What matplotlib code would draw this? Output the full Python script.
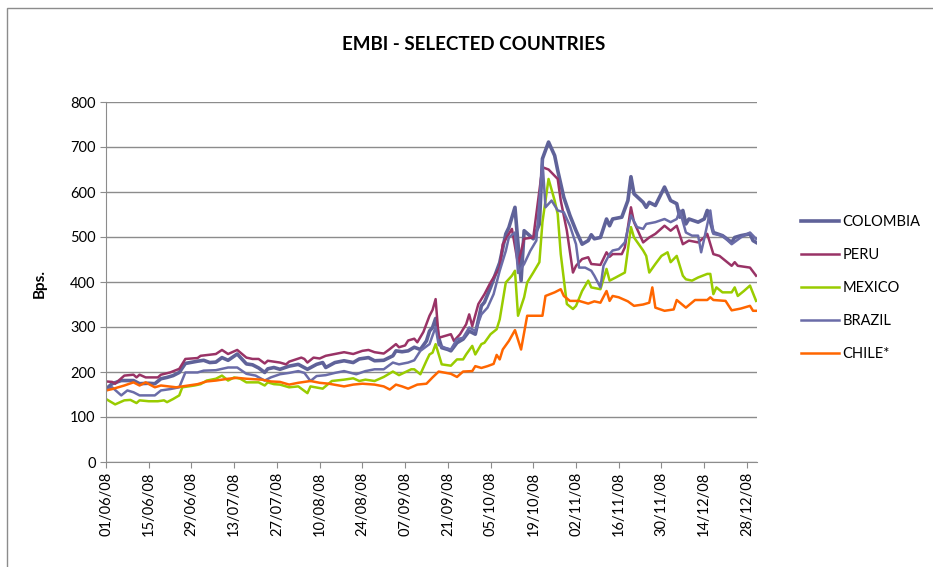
import numpy as np
import pandas as pd
import matplotlib
matplotlib.use("Agg")
import matplotlib.pyplot as plt
import matplotlib.dates as mdates
from matplotlib.patches import Rectangle

plt.rcParams['font.family'] = ['Lato', 'DejaVu Sans']

# --- Data, x = days after 01/06/08 ---
start = pd.Timestamp("2008-06-01")

colombia_day = [0, 2, 5, 9, 11, 14, 16, 18, 20, 22, 24, 26, 30, 32, 34, 36, 38, 40, 43, 46, 48, 50, 52, 53, 55,
                57, 60, 63, 66, 69, 71, 72, 75, 78, 81, 83, 86, 88, 91, 94, 95, 97, 99, 101, 103, 105, 106, 107, 108,
                109, 110, 112, 113, 115, 117, 119, 121, 123, 124, 126, 129, 131, 132, 134, 136, 137, 140, 142, 143,
                145, 147, 148, 150, 152, 154, 156, 158, 159, 160, 162, 164, 165, 166, 169, 171, 172, 173, 176, 177,
                178, 180, 183, 185, 187, 188, 189, 190, 191, 194, 196, 197, 199, 202, 205, 206, 208, 211, 212, 213]
colombia_bps = [162, 174, 181, 181, 174, 175, 174, 185, 188, 192, 199, 219, 224, 226, 221, 222, 232, 226, 240, 218,
                216, 209, 199, 207, 210, 206, 213, 217, 206, 217, 221, 210, 221, 225, 221, 229, 232, 225, 226, 236,
                247, 245, 247, 255, 250, 269, 291, 299, 319, 276, 254, 250, 247, 265, 273, 291, 284, 347, 355, 388,
                443, 507, 521, 566, 403, 514, 496, 529, 674, 711, 681, 648, 588, 548, 514, 484, 492, 505, 496, 499,
                540, 525, 540, 544, 581, 634, 596, 577, 566, 577, 570, 611, 581, 574, 544, 559, 529, 540, 533, 540,
                559, 510, 503, 488, 499, 503, 507, 492, 488]

peru_day = [0, 2, 3, 6, 9, 10, 11, 13, 17, 18, 21, 24, 26, 30, 31, 36, 38, 40, 43, 46, 48, 50, 52, 53, 57, 59, 60,
            64, 65, 66, 68, 70, 72, 75, 78, 81, 84, 86, 88, 91, 93, 95, 96, 98, 99, 101, 102, 104, 106, 107, 108,
            109, 111, 113, 114, 116, 118, 119, 120, 122, 124, 126, 129, 130, 132, 133, 135, 137, 140, 143, 145,
            148, 149, 151, 153, 154, 156, 158, 159, 162, 164, 165, 166, 169, 170, 172, 173, 176, 178, 180, 183,
            185, 187, 189, 191, 194, 196, 197, 199, 201, 203, 205, 206, 207, 211, 213]
peru_bps = [179, 178, 174, 192, 194, 188, 194, 188, 188, 194, 199, 207, 229, 231, 236, 240, 249, 240, 249, 232, 229,
            229, 219, 225, 221, 217, 223, 232, 229, 221, 232, 230, 236, 240, 244, 240, 247, 249, 244, 241, 251, 262,
            255, 259, 270, 274, 266, 289, 325, 338, 362, 276, 280, 284, 269, 284, 306, 328, 302, 351, 373, 399, 432,
            484, 507, 518, 440, 496, 499, 655, 650, 629, 581, 514, 421, 436, 451, 455, 440, 438, 466, 456, 462, 462,
            477, 566, 533, 488, 499, 507, 525, 514, 525, 484, 492, 488, 499, 507, 462, 458, 447, 436, 444, 436, 432,
            414]

mexico_day = [0, 3, 6, 8, 10, 11, 14, 17, 19, 20, 22, 24, 25, 29, 31, 33, 36, 38, 40, 42, 44, 46, 50, 52, 53, 55,
              57, 60, 63, 66, 67, 71, 74, 78, 81, 83, 85, 88, 91, 94, 96, 100, 101, 103, 105, 106, 107, 108, 110,
              113, 115, 117, 118, 120, 121, 123, 124, 126, 128, 129, 131, 133, 134, 135, 137, 138, 140, 142, 143,
              145, 147, 148, 149, 151, 153, 154, 156, 158, 159, 162, 164, 165, 167, 170, 172, 173, 176, 177, 178,
              180, 182, 184, 185, 187, 189, 190, 192, 194, 197, 198, 199, 200, 202, 205, 206, 207, 209, 211, 213]
mexico_bps = [140, 128, 137, 138, 131, 137, 135, 135, 137, 133, 140, 148, 166, 170, 173, 181, 185, 192, 181, 188,
              185, 177, 177, 170, 177, 173, 172, 166, 168, 153, 168, 163, 180, 183, 186, 180, 183, 180, 189, 201,
              193, 206, 206, 195, 225, 239, 243, 262, 217, 214, 228, 228, 239, 258, 239, 262, 265, 284, 295, 317,
              399, 414, 425, 325, 366, 399, 421, 444, 533, 629, 581, 551, 462, 351, 340, 347, 380, 403, 388, 384,
              429, 403, 410, 421, 522, 499, 470, 458, 421, 440, 458, 466, 444, 458, 414, 406, 403, 410, 418, 418,
              373, 388, 377, 377, 388, 369, 380, 392, 358]

brazil_day = [0, 2, 5, 7, 9, 11, 14, 16, 18, 21, 24, 26, 30, 32, 36, 40, 43, 46, 49, 52, 54, 57, 60, 63, 65, 67,
              69, 72, 75, 78, 82, 85, 88, 91, 94, 96, 99, 101, 103, 106, 107, 108, 109, 111, 113, 115, 117, 119,
              121, 123, 125, 127, 129, 131, 132, 134, 135, 137, 139, 141, 143, 144, 146, 148, 150, 152, 154, 155,
              157, 159, 160, 162, 163, 165, 166, 168, 170, 172, 174, 176, 177, 180, 183, 185, 187, 188, 190, 192,
              194, 195, 196, 198, 199, 202, 205, 208, 211, 213]
brazil_bps = [159, 166, 148, 159, 155, 148, 148, 148, 159, 162, 166, 199, 199, 203, 204, 210, 210, 196, 192, 181,
              188, 195, 198, 202, 198, 180, 191, 193, 198, 202, 195, 202, 206, 206, 221, 217, 221, 226, 247, 262,
              281, 300, 260, 254, 250, 273, 276, 299, 291, 328, 343, 373, 425, 469, 499, 510, 420, 440, 469, 492,
              670, 566, 581, 559, 555, 525, 484, 432, 432, 425, 414, 388, 436, 462, 470, 473, 488, 548, 522, 518,
              529, 533, 540, 533, 540, 559, 510, 503, 503, 466, 496, 559, 507, 503, 484, 499, 510, 496]

chile_day = [0, 2, 6, 9, 11, 13, 16, 18, 23, 27, 30, 33, 36, 40, 43, 46, 51, 54, 57, 60, 63, 67, 70, 73, 78, 81,
             84, 88, 91, 93, 95, 97, 99, 102, 105, 107, 109, 113, 115, 117, 120, 121, 123, 125, 127, 128, 129, 130,
             132, 134, 136, 138, 140, 143, 144, 147, 149, 150, 152, 155, 158, 160, 162, 164, 165, 166, 168, 171,
             173, 176, 178, 179, 180, 183, 186, 187, 190, 193, 197, 198, 199, 203, 205, 208, 211, 212, 213]
chile_bps = [159, 162, 170, 177, 170, 177, 166, 170, 166, 170, 173, 179, 181, 185, 187, 185, 183, 179, 178, 172,
             176, 180, 176, 174, 168, 172, 174, 172, 168, 161, 172, 168, 163, 172, 174, 188, 201, 196, 189, 201,
             202, 213, 209, 213, 218, 238, 228, 250, 269, 293, 250, 325, 325, 325, 369, 377, 384, 369, 358, 358,
             352, 357, 354, 380, 358, 369, 366, 357, 347, 350, 354, 388, 343, 336, 339, 360, 343, 360, 360, 366,
             360, 358, 337, 341, 347, 336, 336]

series = [
    ("COLOMBIA", colombia_day, colombia_bps, "#5F6299", 2.6),
    ("PERU", peru_day, peru_bps, "#993366", 1.8),
    ("MEXICO", mexico_day, mexico_bps, "#99CC00", 1.8),
    ("BRAZIL", brazil_day, brazil_bps, "#6A6CA8", 1.8),
    ("CHILE*", chile_day, chile_bps, "#FF6600", 1.8),
]

fig = plt.figure(figsize=(9.33, 5.67), dpi=100)
ax = fig.add_axes([106 / 933, 1 - 462 / 567, (757 - 106) / 933, (462 - 102) / 567])

for name, days, vals, color, lw in series:
    x = start + pd.to_timedelta(days, unit="D")
    ax.plot(x, vals, color=color, lw=lw, label=name, solid_joinstyle="round")

ax.set_ylim(0, 800)
ax.set_yticks(np.arange(0, 801, 100))
ax.set_xlim(start, start + pd.Timedelta(days=213.3))
xt = pd.date_range("2008-06-01", "2008-12-28", freq="14D")
ax.set_xticks(xt)
ax.xaxis.set_major_formatter(mdates.DateFormatter("%d/%m/%y"))
plt.setp(ax.get_xticklabels(), rotation=90)

ax.grid(axis="y", color="#8C8C8C", lw=1)
ax.set_axisbelow(True)
for s in ["top", "right"]:
    ax.spines[s].set_visible(False)
for s in ["left", "bottom"]:
    ax.spines[s].set_color("#8C8C8C")
ax.tick_params(axis="both", colors="#8C8C8C", labelcolor="black", length=4, labelsize=10.5)
ax.tick_params(axis="x", labelsize=10.5, pad=3)

fig.text(474 / 933, 1 - 44 / 567, "EMBI - SELECTED COUNTRIES", ha="center", va="center",
         fontsize=13.5, fontweight="bold")
fig.text(40 / 933, 1 - 283 / 567, "Bps.", ha="center", va="center", rotation=90,
         fontsize=11, fontweight="bold")

leg = ax.legend(loc="center left", bbox_to_anchor=(795 / 933, 1 - 288 / 567),
                bbox_transform=fig.transFigure, frameon=False, fontsize=10.5,
                handlelength=2.6, labelspacing=1.3, handletextpad=0.25, borderaxespad=0)

fig.patches.append(Rectangle((7 / 933, -0.1), 1.2, 1.1 - 8 / 567, transform=fig.transFigure,
                             fill=False, ec="#8C8C8C", lw=1))

fig.savefig("out.png", dpi=100)
